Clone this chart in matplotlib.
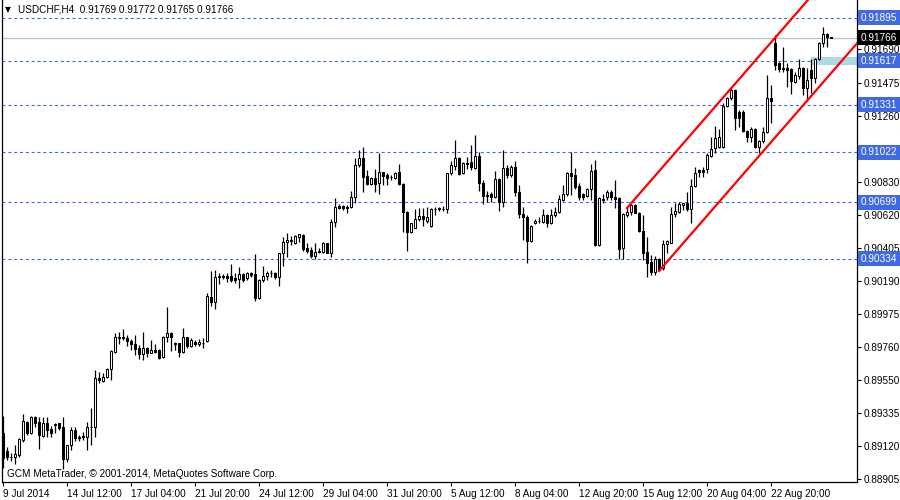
import numpy as np
import matplotlib

matplotlib.use('agg')
import matplotlib.pyplot as plt
import matplotlib.transforms as mtransforms
from matplotlib.patches import Rectangle

plt.rcParams['font.family'] = ['Liberation Sans', 'DejaVu Sans']
plt.rcParams['lines.scale_dashes'] = False

title = 'USDCHF,H4  0.91769 0.91772 0.91765 0.91766'
footer = 'GCM MetaTrader, \u00a9 2001-2014, MetaQuotes Software Corp.'

# H4 candles
opens = [
    0.89204, 0.89088, 0.89049, 0.89049, 0.89062, 0.89159, 0.89275, 0.89204, 0.89308, 0.89275,
    0.89185, 0.89269, 0.89230, 0.89262, 0.89269, 0.89243, 0.89036, 0.89126, 0.89224, 0.89178,
    0.89185, 0.89178, 0.89243, 0.89246, 0.89561, 0.89541, 0.89567, 0.89619, 0.89729, 0.89826,
    0.89826, 0.89820, 0.89800, 0.89781, 0.89755, 0.89716, 0.89755, 0.89723, 0.89742, 0.89742,
    0.89697, 0.89826, 0.89852, 0.89787, 0.89787, 0.89729, 0.89826, 0.89768, 0.89794, 0.89781,
    0.89787, 0.89800, 0.90085, 0.90053, 0.90215, 0.90221, 0.90221, 0.90221, 0.90209, 0.90202,
    0.90234, 0.90209, 0.90241, 0.90234, 0.90079, 0.90196, 0.90221, 0.90241, 0.90241, 0.90215,
    0.90371, 0.90442, 0.90455, 0.90435, 0.90474, 0.90487, 0.90403, 0.90390, 0.90351, 0.90384,
    0.90377, 0.90435, 0.90371, 0.90571, 0.90675, 0.90675, 0.90669, 0.90669, 0.90733, 0.90941,
    0.90986, 0.90869, 0.90818, 0.90857, 0.90824, 0.90895, 0.90876, 0.90863, 0.90857, 0.90895,
    0.90818, 0.90636, 0.90507, 0.90533, 0.90591, 0.90610, 0.90578, 0.90546, 0.90656, 0.90653,
    0.90656, 0.90656, 0.90889, 0.90934, 0.90986, 0.90889, 0.90954, 0.90960, 0.90921, 0.90999,
    0.90824, 0.90746, 0.90753, 0.90733, 0.90850, 0.90701, 0.90921, 0.90876, 0.90928, 0.90766,
    0.90623, 0.90604, 0.90448, 0.90565, 0.90578, 0.90571, 0.90617, 0.90565, 0.90617, 0.90636,
    0.90714, 0.90753, 0.90889, 0.90876, 0.90805, 0.90753, 0.90740, 0.90785, 0.90908, 0.90422,
    0.90720, 0.90733, 0.90766, 0.90733, 0.90727, 0.90403, 0.90617, 0.90636, 0.90682, 0.90630,
    0.90513, 0.90377, 0.90312, 0.90247, 0.90332, 0.90273, 0.90429, 0.90435, 0.90623, 0.90636,
    0.90682, 0.90695, 0.90656, 0.90805, 0.90908, 0.90908, 0.90915, 0.90999, 0.91051, 0.91057,
    0.91057, 0.91323, 0.91375, 0.91427, 0.91284, 0.91284, 0.91161, 0.91122, 0.91174, 0.91057,
    0.91096, 0.91155, 0.91375, 0.91731, 0.91602, 0.91563, 0.91569, 0.91563, 0.91479, 0.91518,
    0.91569, 0.91440, 0.91556, 0.91505, 0.91628, 0.91731, 0.91790, 0.91769,
]
highs = [
    0.89314, 0.89113, 0.89075, 0.89126, 0.89172, 0.89327, 0.89282, 0.89314, 0.89314, 0.89308,
    0.89308, 0.89308, 0.89250, 0.89269, 0.89272, 0.89308, 0.89126, 0.89243, 0.89243, 0.89191,
    0.89210, 0.89275, 0.89366, 0.89612, 0.89599, 0.89593, 0.89625, 0.89742, 0.89852, 0.89859,
    0.89878, 0.89839, 0.89813, 0.89839, 0.89774, 0.89859, 0.89761, 0.89807, 0.89781, 0.89748,
    0.89833, 0.90021, 0.89859, 0.89794, 0.89790, 0.89885, 0.89829, 0.89820, 0.89807, 0.89813,
    0.89820, 0.90111, 0.90254, 0.90260, 0.90241, 0.90234, 0.90241, 0.90299, 0.90241, 0.90280,
    0.90241, 0.90247, 0.90247, 0.90364, 0.90202, 0.90286, 0.90254, 0.90260, 0.90247, 0.90371,
    0.90474, 0.90500, 0.90481, 0.90487, 0.90497, 0.90494, 0.90435, 0.90410, 0.90435, 0.90403,
    0.90442, 0.90438, 0.90591, 0.90727, 0.90688, 0.90682, 0.90682, 0.90772, 0.90986, 0.91038,
    0.91057, 0.90908, 0.90863, 0.90915, 0.91019, 0.90898, 0.90889, 0.90876, 0.90895, 0.90947,
    0.90824, 0.90640, 0.90565, 0.90656, 0.90662, 0.90662, 0.90669, 0.90662, 0.90669, 0.90669,
    0.90675, 0.90889, 0.90967, 0.91103, 0.90993, 0.90960, 0.90993, 0.91070, 0.91135, 0.91025,
    0.90844, 0.90772, 0.90766, 0.90902, 0.90857, 0.91038, 0.90941, 0.90941, 0.90967, 0.90811,
    0.90669, 0.90617, 0.90552, 0.90591, 0.90604, 0.90656, 0.90623, 0.90656, 0.90669, 0.90746,
    0.90811, 0.90895, 0.91025, 0.90921, 0.90824, 0.90759, 0.90792, 0.90947, 0.90973, 0.90733,
    0.90753, 0.90779, 0.90779, 0.90844, 0.90733, 0.90630, 0.90669, 0.90688, 0.90688, 0.90636,
    0.90617, 0.90474, 0.90358, 0.90351, 0.90338, 0.90455, 0.90455, 0.90669, 0.90695, 0.90701,
    0.90695, 0.90766, 0.90850, 0.90928, 0.90915, 0.90928, 0.91019, 0.91122, 0.91194, 0.91174,
    0.91343, 0.91381, 0.91446, 0.91433, 0.91297, 0.91297, 0.91168, 0.91187, 0.91181, 0.91103,
    0.91187, 0.91524, 0.91459, 0.91783, 0.91608, 0.91705, 0.91602, 0.91569, 0.91543, 0.91628,
    0.91576, 0.91569, 0.91628, 0.91634, 0.91738, 0.91835, 0.91793, 0.91772,
]
lows = [
    0.88977, 0.89029, 0.89023, 0.89003, 0.89049, 0.89146, 0.89191, 0.89198, 0.89243, 0.89100,
    0.89178, 0.89178, 0.89178, 0.89204, 0.89224, 0.88971, 0.89016, 0.89094, 0.89152, 0.89152,
    0.89159, 0.89094, 0.89126, 0.89178, 0.89528, 0.89535, 0.89561, 0.89548, 0.89723, 0.89781,
    0.89807, 0.89768, 0.89742, 0.89710, 0.89684, 0.89677, 0.89697, 0.89720, 0.89723, 0.89684,
    0.89690, 0.89794, 0.89736, 0.89742, 0.89697, 0.89723, 0.89755, 0.89761, 0.89768, 0.89768,
    0.89755, 0.89794, 0.90027, 0.90008, 0.90170, 0.90202, 0.90183, 0.90183, 0.90176, 0.90144,
    0.90183, 0.90196, 0.90215, 0.90060, 0.90072, 0.90183, 0.90196, 0.90215, 0.90202, 0.90157,
    0.90286, 0.90345, 0.90422, 0.90429, 0.90442, 0.90384, 0.90371, 0.90338, 0.90332, 0.90371,
    0.90371, 0.90368, 0.90345, 0.90539, 0.90656, 0.90649, 0.90630, 0.90662, 0.90695, 0.90928,
    0.90766, 0.90811, 0.90811, 0.90766, 0.90753, 0.90811, 0.90811, 0.90844, 0.90850, 0.90811,
    0.90507, 0.90384, 0.90500, 0.90530, 0.90578, 0.90546, 0.90565, 0.90539, 0.90617, 0.90643,
    0.90643, 0.90630, 0.90876, 0.90908, 0.90879, 0.90882, 0.90915, 0.90908, 0.90915, 0.90772,
    0.90688, 0.90701, 0.90701, 0.90727, 0.90643, 0.90669, 0.90857, 0.90863, 0.90740, 0.90597,
    0.90455, 0.90306, 0.90442, 0.90558, 0.90565, 0.90565, 0.90539, 0.90558, 0.90604, 0.90630,
    0.90707, 0.90740, 0.90746, 0.90785, 0.90714, 0.90714, 0.90733, 0.90714, 0.90416, 0.90416,
    0.90695, 0.90714, 0.90714, 0.90662, 0.90332, 0.90332, 0.90604, 0.90617, 0.90630, 0.90507,
    0.90325, 0.90215, 0.90228, 0.90228, 0.90254, 0.90260, 0.90371, 0.90435, 0.90604, 0.90630,
    0.90649, 0.90643, 0.90565, 0.90798, 0.90863, 0.90863, 0.90889, 0.90993, 0.91019, 0.91051,
    0.91051, 0.91317, 0.91362, 0.91168, 0.91187, 0.91155, 0.91090, 0.91090, 0.91054, 0.91019,
    0.91083, 0.91148, 0.91213, 0.91556, 0.91543, 0.91543, 0.91446, 0.91401, 0.91472, 0.91498,
    0.91394, 0.91356, 0.91407, 0.91472, 0.91621, 0.91705, 0.91705, 0.91765,
]
closes = [
    0.89042, 0.89049, 0.89052, 0.89068, 0.89165, 0.89282, 0.89204, 0.89308, 0.89269, 0.89191,
    0.89269, 0.89224, 0.89204, 0.89258, 0.89237, 0.89036, 0.89126, 0.89224, 0.89172, 0.89175,
    0.89178, 0.89243, 0.89246, 0.89561, 0.89548, 0.89567, 0.89619, 0.89736, 0.89826, 0.89820,
    0.89818, 0.89800, 0.89781, 0.89748, 0.89716, 0.89755, 0.89723, 0.89742, 0.89729, 0.89690,
    0.89826, 0.89852, 0.89826, 0.89784, 0.89729, 0.89826, 0.89768, 0.89807, 0.89781, 0.89794,
    0.89790, 0.90092, 0.90053, 0.90215, 0.90221, 0.90218, 0.90209, 0.90196, 0.90196, 0.90234,
    0.90196, 0.90241, 0.90228, 0.90079, 0.90196, 0.90221, 0.90241, 0.90238, 0.90215, 0.90371,
    0.90442, 0.90455, 0.90448, 0.90481, 0.90494, 0.90396, 0.90384, 0.90351, 0.90377, 0.90374,
    0.90435, 0.90371, 0.90571, 0.90669, 0.90662, 0.90662, 0.90665, 0.90733, 0.90941, 0.90986,
    0.90863, 0.90818, 0.90857, 0.90818, 0.90895, 0.90869, 0.90857, 0.90860, 0.90889, 0.90818,
    0.90636, 0.90507, 0.90565, 0.90591, 0.90610, 0.90591, 0.90604, 0.90656, 0.90653, 0.90660,
    0.90656, 0.90889, 0.90941, 0.90986, 0.90882, 0.90954, 0.90950, 0.90928, 0.90999, 0.90824,
    0.90740, 0.90743, 0.90733, 0.90850, 0.90701, 0.90921, 0.90876, 0.90928, 0.90766, 0.90623,
    0.90604, 0.90448, 0.90546, 0.90578, 0.90575, 0.90617, 0.90565, 0.90617, 0.90636, 0.90720,
    0.90753, 0.90889, 0.90869, 0.90798, 0.90733, 0.90733, 0.90785, 0.90902, 0.90422, 0.90727,
    0.90717, 0.90766, 0.90733, 0.90720, 0.90396, 0.90623, 0.90636, 0.90682, 0.90630, 0.90513,
    0.90371, 0.90306, 0.90247, 0.90332, 0.90260, 0.90429, 0.90448, 0.90623, 0.90643, 0.90688,
    0.90695, 0.90656, 0.90805, 0.90889, 0.90895, 0.90895, 0.91006, 0.91044, 0.91116, 0.91122,
    0.91323, 0.91375, 0.91427, 0.91245, 0.91245, 0.91161, 0.91122, 0.91174, 0.91057, 0.91096,
    0.91155, 0.91375, 0.91356, 0.91589, 0.91563, 0.91569, 0.91556, 0.91485, 0.91524, 0.91569,
    0.91440, 0.91492, 0.91505, 0.91628, 0.91731, 0.91790, 0.91770, 0.91766,
]

# time axis labels, one every 16 bars
date_labels = ['9 Jul 2014', '14 Jul 12:00', '17 Jul 04:00', '21 Jul 20:00', '24 Jul 12:00',
               '29 Jul 04:00', '31 Jul 20:00', '5 Aug 12:00', '8 Aug 04:00', '12 Aug 20:00',
               '15 Aug 12:00', '20 Aug 04:00', '22 Aug 20:00']
date_label_bars = [0, 16, 32, 48, 64, 80, 96, 112, 128, 144, 160, 176, 192]

# price scale (0.91895 sits under its level box, so its own label is left blank)
price_ticks = [0.91895, 0.91690, 0.91475, 0.91260, 0.91045, 0.90830, 0.90620, 0.90405,
               0.90190, 0.89975, 0.89760, 0.89550, 0.89335, 0.89120, 0.88905]
price_tick_labels = ['', '0.91690', '0.91475', '0.91260', '0.91045', '0.90830', '0.90620',
                     '0.90405', '0.90190', '0.89975', '0.89760', '0.89550', '0.89335',
                     '0.89120', '0.88905']

# horizontal levels drawn by the user
levels = [0.91895, 0.91617, 0.91331, 0.91022, 0.90699, 0.90334]
bid = 0.91766

# channel: start bar and price of each line, common slope per bar
channel_bars = [156, 164]
channel_prices = [0.90662, 0.90254]
channel_slope = 0.000298

# small shaded zone
zone_bar = 202
zone_low = 0.91592
zone_high = 0.91638

blue = '#4169E1'
fs = 7.2

fig = plt.figure(figsize=(9, 5), dpi=100)
ax = fig.add_axes([2 / 900, 18 / 500, 855 / 900, 482 / 500])
ax.set_xlim(-0.25, 213.5)
ax.set_ylim(0.88887, 0.92010)

x = np.arange(len(opens))
o = np.array(opens)
c = np.array(closes)
h = np.array(highs)
l = np.array(lows)
up = c >= o

ax.vlines(x, l, h, color='black', lw=0.9, zorder=3)
ax.bar(x, np.abs(c - o), bottom=np.minimum(o, c), width=0.5,
       color=np.where(up, 'white', 'black'), edgecolor='black', lw=0.75, zorder=4)

for lv in levels:
    ax.axhline(lv, color=blue, lw=0.8, ls=(0, (2.2, 2.0)), zorder=1)
ax.axhline(bid, color='#C0C0C0', lw=0.9, zorder=1)

ax.add_patch(Rectangle((zone_bar, zone_low), 30, zone_high - zone_low,
                       facecolor='#ADD8E6', edgecolor='none', zorder=2))

for b0, p0 in zip(channel_bars, channel_prices):
    xs = np.array([b0, 230])
    ax.plot(xs, p0 + channel_slope * (xs - b0), color='red', lw=1.6, zorder=5)

# axes look
for s in ['left', 'bottom', 'right']:
    ax.spines[s].set_linewidth(0.9)
    ax.spines[s].set_color('black')
ax.spines['top'].set_visible(False)

ax.yaxis.tick_right()
ax.set_yticks(price_ticks)
ax.set_yticklabels(price_tick_labels)
ax.set_xticks(date_label_bars)
ax.set_xticklabels(date_labels, ha='left')
ax.tick_params(axis='y', direction='out', length=3, width=0.8, pad=2, labelsize=fs)
ax.tick_params(axis='x', direction='out', length=3, width=0.8, pad=2, labelsize=fs)

trans = mtransforms.blended_transform_factory(ax.transAxes, ax.transData)
for lv in levels:
    ax.text(1.0045, lv, '%.5f' % lv, transform=trans, ha='left', va='center',
            fontsize=fs, color='white', zorder=10, clip_on=False,
            bbox=dict(boxstyle='square,pad=0.25', facecolor=blue, edgecolor='none'))
ax.text(1.0045, bid, '%.5f' % bid, transform=trans, ha='left', va='center',
        fontsize=fs, color='white', zorder=10, clip_on=False,
        bbox=dict(boxstyle='square,pad=0.25', facecolor='black', edgecolor='none'))

fig.text(5 / 900, 1 - 10 / 500, '\u25bc', fontsize=5.5, ha='left', va='center',
         family=['DejaVu Sans'])
fig.text(18 / 900, 1 - 10 / 500, title, fontsize=fs, ha='left', va='center')
ax.text(5 / 855, 8 / 482, footer, transform=ax.transAxes, fontsize=fs, ha='left', va='center')

fig.savefig('out.png', dpi=100)
